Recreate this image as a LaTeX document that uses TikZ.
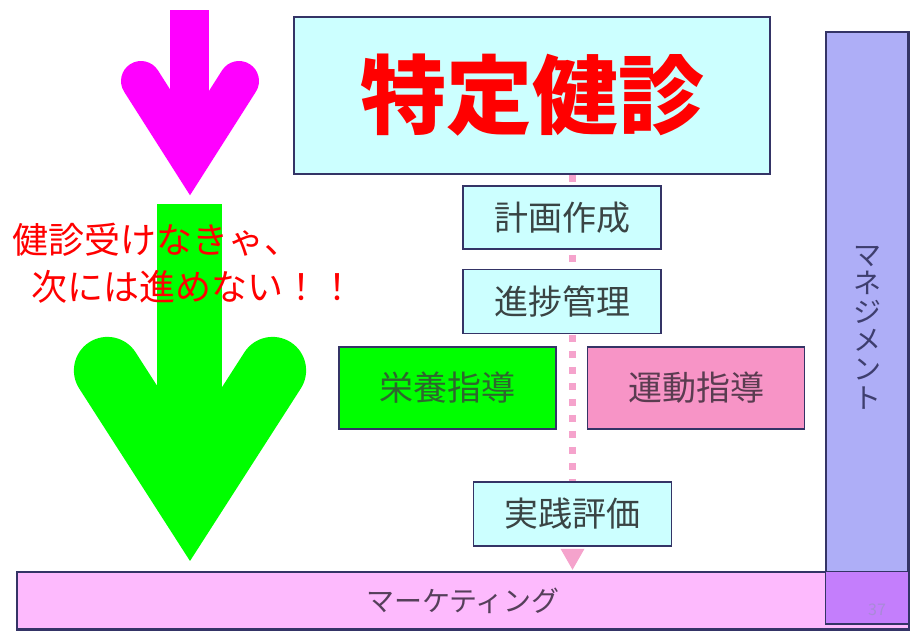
\documentclass[tikz,border=0pt]{standalone}
\usepackage{fontspec}
\setmainfont{Noto Sans CJK JP}
\usepackage{tikz}
\usepackage{xcolor}
\usetikzlibrary{positioning}
\usetikzlibrary{calc,backgrounds}

\definecolor{boxcyan}{HTML}{CCFFFF}
\definecolor{boxline}{HTML}{343466}
\definecolor{boxgreen}{HTML}{00FF00}
\definecolor{boxpink}{HTML}{F794C6}
\definecolor{mktpink}{HTML}{FDBAFD}
\definecolor{mgmtblue}{HTML}{AEAEF7}
\definecolor{overlap}{HTML}{C47EFC}
\definecolor{dotpink}{HTML}{F5A3CC}
\definecolor{arrowmag}{HTML}{FF00FF}
\definecolor{txtgray}{HTML}{3A4444}
\definecolor{txtgreen}{HTML}{2E662E}
\definecolor{txtpink}{HTML}{5A3C50}
\definecolor{txtmkt}{HTML}{553F5A}
\definecolor{txtmgmt}{HTML}{3E3E6E}
\definecolor{txtpage}{HTML}{A98AD8}

\begin{document}
\begin{tikzpicture}[x=0.5pt,y=-0.5pt,
  box/.style={draw=boxline, line width=0.75pt, inner sep=0pt,
    font=\fontsize{17}{20}\selectfont},
  cyanbox/.style={box, fill=boxcyan, text=txtgray,
    minimum width=99pt, minimum height=32pt},
  dotline/.style={dotpink, line width=3.5pt, dash pattern=on 3.5pt off 4.5pt}]
  \useasboundingbox (0,0) rectangle (910,637);

  % arrows on the left
  \fill[arrowmag] (170,10) rectangle (209,130);
  \draw[arrowmag, line width=20pt, line cap=round, line join=miter]
    (141,81) -- (190,158) -- (239,81);
  \fill[boxgreen] (157,204) rectangle (222,450);
  \draw[boxgreen, line width=33.5pt, line cap=round, line join=miter]
    (107.4,370.4) -- (190,499) -- (272.6,370.4);

  \node(warn) [anchor=west, inner sep=0pt, text=red, align=left,
    font=\fontsize{18}{23.5}\selectfont] at (12,263.5)
    {健診受けなきゃ、\\\hspace*{9.5pt}次には進めない！！};

  % boxes
  \node(title) [box, fill=boxcyan, text=red, minimum width=238pt,
    minimum height=78.5pt, font=\fontsize{43}{48}\selectfont\bfseries]
    at (532,95.5) {特定健診};
  \node(plan) [cyanbox, minimum height=31.5pt] at (562,217.5) {計画作成};
  \node(progress) [cyanbox, below=9.5pt of plan] {進捗管理};
  \node(diet) [box, fill=boxgreen, text=txtgreen, minimum width=108.5pt,
    minimum height=41pt] at (447.5,388) {栄養指導};
  \node(exercise) [box, fill=boxpink, text=txtpink, minimum width=108.5pt,
    minimum height=41pt, right=15pt of diet] {運動指導};
  \node(eval) [cyanbox] at (572.5,514) {実践評価};

  \begin{scope}[on background layer]
    \draw[dotline] (eval.north |- title.south) -- (eval.north);
  \end{scope}
  \fill[dotpink] ($(eval.south)+(-12,2)$) -- ($(eval.south)+(12,2)$)
    -- ($(eval.south)+(0,23)$) -- cycle;

  % bars
  \node(mkt) [box, fill=mktpink, text=txtmkt, minimum width=446pt,
    minimum height=28.5pt, font=\fontsize{14}{16}\selectfont]
    at (463,600.5) {マーケティング};
  \node(mgmt) [box, fill=mgmtblue, text=txtmgmt, minimum width=41pt,
    minimum height=295.5pt, align=center,
    font=\fontsize{14}{14.3}\selectfont]
    at (867,327.5) {マ\\ネ\\ジ\\メ\\ン\\ト};
  \fill[overlap] (mgmt.west |- mkt.north) rectangle (mgmt.south east);
  \draw[boxline, line width=0.75pt] (mkt.north west) rectangle (mkt.south east);
  \draw[boxline, line width=0.75pt] (mgmt.north west) rectangle (mgmt.south east);
  \node(page) [text=txtpage, inner sep=0pt,
    font=\fontsize{8}{9}\selectfont] at (877,610) {37};
\end{tikzpicture}
\end{document}
